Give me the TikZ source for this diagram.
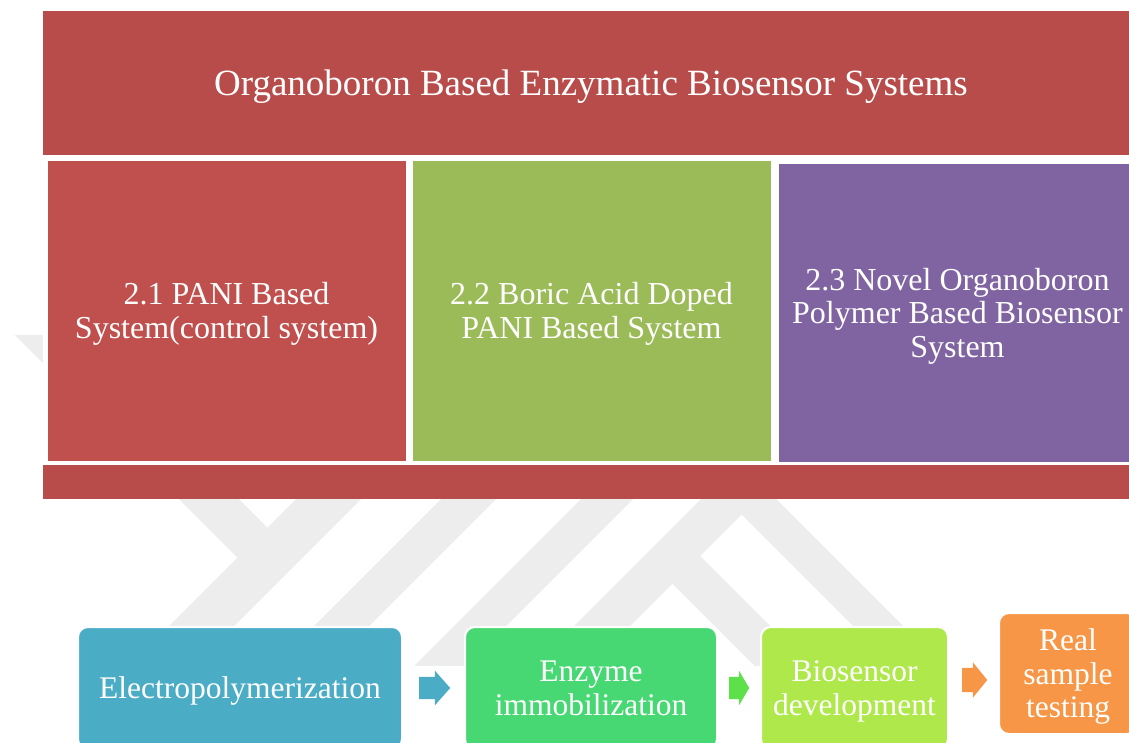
\documentclass[tikz,border=0pt]{standalone}
\usepackage{fontspec}
\setmainfont{Liberation Serif}
\usetikzlibrary{shapes.arrows}
\definecolor{bannerred}{HTML}{B84C4A}
\definecolor{boxred}{HTML}{C0504D}
\definecolor{boxgreen}{HTML}{9BBB59}
\definecolor{boxpurple}{HTML}{8064A2}
\definecolor{flowblue}{HTML}{4BACC6}
\definecolor{flowgreen}{HTML}{48D873}
\definecolor{flowlime}{HTML}{AEE84A}
\definecolor{floworange}{HTML}{F79646}
\definecolor{arrowgreen}{HTML}{5EE04A}
\begin{document}
\begin{tikzpicture}[x=1pt, y=-1pt,
  wmark/.style={fill=black!7},
  header/.style={rectangle, fill=bannerred, text=white, inner sep=0pt,
    font=\fontsize{37}{40}\selectfont, text depth=0pt},
  topbox/.style={rectangle, draw=white, line width=3pt, text=white, inner sep=0pt,
    align=center, minimum width=361pt, text depth=0pt,
    font=\fontsize{32}{33.5}\selectfont},
  stepbox/.style={rectangle, rounded corners=10pt, draw=white, line width=2pt,
    text=white, inner sep=0pt, align=center, text depth=0pt,
    font=\fontsize{31.5}{33.5}\selectfont},
  flowarrow/.style={single arrow, draw=none, inner sep=0pt, anchor=tail}
]
\useasboundingbox (0,0) rectangle (1129,742);
\fill[white] (0,0) rectangle (1129,742);

% faint logo in the background
\begin{scope}
  \clip (0,335) rectangle (1129,665);
  \fill[wmark] (495,300) -- (560,300) -- (160,700) -- (95,700) -- cycle;
  \fill[wmark] (-20,300) -- (40,300) -- (267.5,527.5) -- (237.5,557.5) -- cycle;
  \fill[wmark] (640,300) -- (695,300) -- (295,700) -- (240,700) -- cycle;
  \fill[wmark] (780,300) -- (832,300) -- (432,700) -- (380,700) -- cycle;
  \fill[wmark] (738.5,461.5) -- (977,700) -- (927,700) -- (741.5,514.5)
               -- (556,700) -- (500,700) -- cycle;
  \fill[wmark] (700,556) -- (844,700) -- (789,700) -- (672.5,583.5) -- cycle;
\end{scope}
\fill[white] (43,155) rectangle (1129,465);

% header and base band
\node[header, minimum width=1096pt, minimum height=144pt] (title) at (591,83)
  {Organoboron Based Enzymatic Biosensor Systems};
\node[header, minimum width=1096pt, minimum height=34pt] (base) at (591,482) {};

% the three systems
\node[topbox, fill=boxred, minimum height=303pt] (pani) at (226.5,310.5)
  {2.1 PANI Based\\System(control system)};
\node[topbox, fill=boxgreen, minimum height=303pt] (boric) at (591.5,310.5)
  {2.2 Boric Acid Doped\\PANI Based System};
\node[topbox, fill=boxpurple, minimum height=301pt] (novel) at (957.5,312.5)
  {2.3 Novel Organoboron\\Polymer Based Biosensor\\System};

% workflow
\node[stepbox, fill=flowblue, minimum width=324pt, minimum height=122pt] (epoly) at (240,688)
  {Electropolymerization};
\node[stepbox, fill=flowgreen, minimum width=252pt, minimum height=122pt] (enzyme) at (591,688)
  {Enzyme\\immobilization};
\node[stepbox, fill=flowlime, minimum width=187pt, minimum height=122pt] (biosens) at (854.5,688)
  {Biosensor\\development};
\node[stepbox, fill=floworange, minimum width=138pt, minimum height=121pt] (real) at (1068,673.5)
  {Real\\sample\\testing};

\node[flowarrow, fill=flowblue, minimum height=31pt, text height=11pt, text depth=11pt,
  single arrow head extend=6pt, single arrow tip angle=97] (a1) at (419,688) {};
\node[flowarrow, fill=arrowgreen, minimum height=20pt, text height=11pt, text depth=11pt,
  single arrow head extend=6pt, single arrow tip angle=119] (a2) at (729,688) {};
\node[flowarrow, fill=floworange, minimum height=25pt, text height=12pt, text depth=12pt,
  single arrow head extend=5.5pt, single arrow tip angle=102] (a3) at (962,680) {};
\end{tikzpicture}
\end{document}
